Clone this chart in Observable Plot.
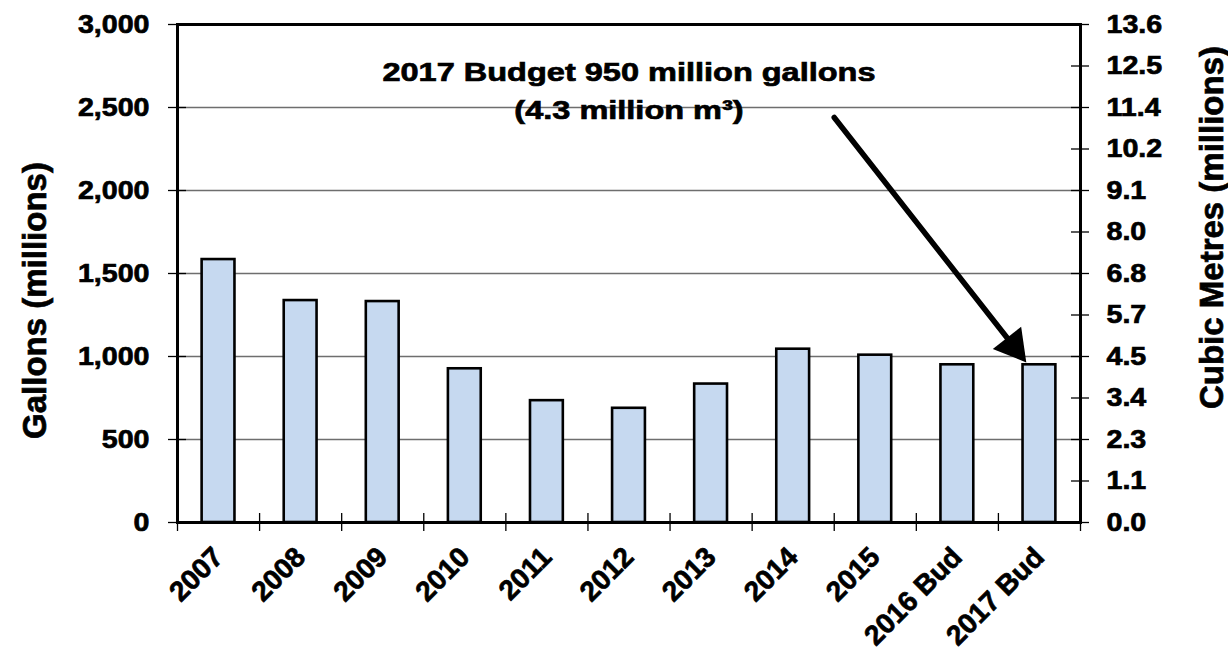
<!DOCTYPE html>
<html><head><meta charset="utf-8">
<script src="https://cdn.jsdelivr.net/npm/d3@7"></script>
<script src="https://cdn.jsdelivr.net/npm/@observablehq/plot@0.6"></script>
<style>
html,body{margin:0;padding:0;background:#fff;}
svg text{stroke:black;stroke-width:0.7px;paint-order:stroke;}
</style></head><body><div id="chart"></div>
<script>
const categories = ["2007","2008","2009","2010","2011","2012","2013","2014","2015","2016 Bud","2017 Bud"];
const gallons = [1584,1337,1331,926,734,688,834,1044,1008,950,950];
const leftTicks = [0,500,1000,1500,2000,2500,3000];
const gridValues = [500,1000,1500,2000,2500];
const rightTickGallons = [0,250,500,750,1000,1250,1500,1750,2000,2250,2500,2750,3000];
const rightTickLabels = ["0.0","1.1","2.3","3.4","4.5","5.7","6.8","8.0","9.1","10.2","11.4","12.5","13.6"];
const leftTitle = "Gallons (millions)";
const rightTitle = "Cubic Metres (millions)";
const noteLine1 = "2017 Budget 950 million gallons";
const noteLine2 = "(4.3 million m\u00B3)";
const notePos = [{x: 5, y1: 2661, y2: 2433}];
const arrowData = [{x1: 7.5, y1: 2440, x2: 9.84, y2: 965}];

const rows = categories.map((c, i) => ({i, category: c, gallons: gallons[i]}));
const indices = categories.map((c, i) => i);
const boundaries = d3.range(-0.5, categories.length, 1);
const FONT = "'Liberation Sans', Arial, Helvetica, sans-serif";

const chart = Plot.plot({
  width: 1228, height: 656,
  marginLeft: 177, marginRight: 148, marginTop: 24, marginBottom: 134,
  x: {type: "linear", domain: [-0.5, categories.length - 0.5], axis: null},
  y: {domain: [0, 3000], axis: null},
  style: {fontFamily: FONT, fontWeight: "bold", fontSize: "26px", color: "black", background: "white"},
  marks: [
    Plot.gridY(gridValues, {stroke: "#6e6e6e", strokeOpacity: 1, strokeWidth: 1.3}),
    Plot.rectY(rows, {x1: d => d.i - 0.2, x2: d => d.i + 0.2, y: "gallons", fill: "#c6d9f0", stroke: "black", strokeWidth: 2.6}),
    Plot.frame({stroke: "black", strokeWidth: 3}),
    Plot.ruleY(leftTicks, {y: d => d, x1: -0.5, x2: -0.5, insetLeft: -9, insetRight: -9, stroke: "black", strokeWidth: 1.3}),
    Plot.ruleY(rightTickGallons, {y: d => d, x1: categories.length - 0.5, x2: categories.length - 0.5, insetLeft: -9, insetRight: -9, stroke: "black", strokeWidth: 1.3}),
    Plot.ruleX(boundaries, {x: d => d, y1: 0, y2: 0, insetTop: -9, insetBottom: -9, stroke: "black", strokeWidth: 1.3}),
    Plot.axisY(leftTicks, {anchor: "left", tickSize: 0, tickPadding: 28, tickFormat: d => d3.format(",")(d), fontSize: 26, fontWeight: "bold", label: null}),
    Plot.axisY(rightTickGallons, {anchor: "right", tickSize: 0, tickPadding: 26, tickFormat: d => rightTickLabels[rightTickGallons.indexOf(d)], fontSize: 26, fontWeight: "bold", label: null}),
    Plot.axisX(indices, {anchor: "bottom", tickSize: 0, tickPadding: 30, tickRotate: -45, tickFormat: i => categories[i], fontSize: 28, fontWeight: "bold", label: null}),
    Plot.text([leftTitle], {frameAnchor: "left", dx: -132, dy: 27, rotate: -90, textAnchor: "middle", lineAnchor: "bottom", fontSize: 33, fontWeight: "bold", fill: "black"}),
    Plot.text([rightTitle], {frameAnchor: "right", dx: 142, dy: -46, rotate: -90, textAnchor: "middle", lineAnchor: "bottom", fontSize: 33, fontWeight: "bold", fill: "black"}),
    Plot.arrow(arrowData, {x1: "x1", y1: "y1", x2: "x2", y2: "y2", stroke: "black", strokeWidth: 5.5, headLength: 0, insetEnd: 22}),
    Plot.dot(arrowData, {x: "x2", y: "y2", dx: -12.9, dy: -16.3, symbol: "triangle", r: 13.4, rotate: 141.8, fill: "black", stroke: "none"}),
    Plot.text(notePos, {x: "x", y: "y1", text: () => noteLine1, lineAnchor: "bottom", textAnchor: "middle", fontSize: 26, fontWeight: "bold", fill: "black"}),
    Plot.text(notePos, {x: "x", y: "y2", text: () => noteLine2, lineAnchor: "bottom", textAnchor: "middle", fontSize: 26, fontWeight: "bold", fill: "black"})
  ]
});
document.getElementById("chart").appendChild(chart);

function stretch(el, factor) {
  const len = el.getComputedTextLength();
  if (len > 0) {
    el.setAttribute("textLength", (len * factor).toFixed(1));
    el.setAttribute("lengthAdjust", "spacingAndGlyphs");
  }
}
chart.querySelectorAll("text").forEach(t => {
  const s = t.textContent;
  if (s === noteLine1 || s === noteLine2) stretch(t, 1.25);
  else if (leftTicks.map(d => d3.format(",")(d)).includes(s) || rightTickLabels.includes(s)) stretch(t, 1.1);
});
</script>
</body></html>
